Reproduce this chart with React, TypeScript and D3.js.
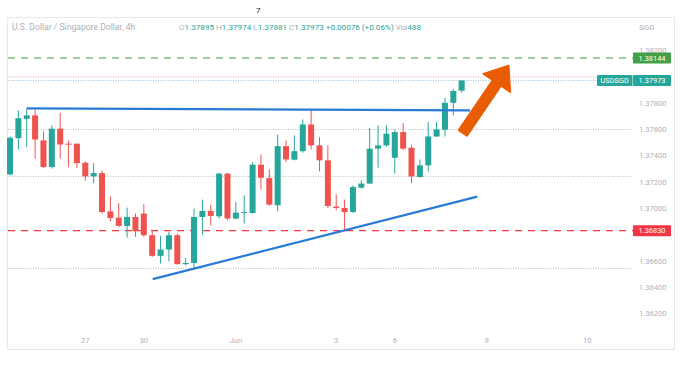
import React from "react";
import * as d3 from "d3";

const opens = [1.37258,1.37534,1.37681,1.37707,1.37517,1.37314,1.37606,1.37492,1.37492,1.37347,1.37243,1.37268,1.36977,1.36929,1.36866,1.36934,1.3696,1.36795,1.36638,1.36686,1.36795,1.36575,1.36584,1.36934,1.3698,1.36939,1.37264,1.36922,1.36964,1.36964,1.37332,1.3723,1.37023,1.37473,1.3737,1.37435,1.37638,1.37479,1.37365,1.37013,1.37002,1.36972,1.37157,1.37188,1.37454,1.37479,1.37385,1.3758,1.37461,1.37238,1.37327,1.37547,1.37598,1.37803,1.37895];
const highs = [1.37547,1.37745,1.37757,1.37752,1.37587,1.37631,1.37727,1.37517,1.37494,1.37357,1.37344,1.37289,1.37091,1.37038,1.37005,1.3696,1.3703,1.36833,1.3679,1.3682,1.36808,1.36622,1.36998,1.37066,1.37028,1.37271,1.37271,1.37048,1.37099,1.37352,1.3741,1.37296,1.3756,1.37517,1.37555,1.37676,1.37745,1.37542,1.37479,1.37106,1.37066,1.37175,1.37213,1.37613,1.37631,1.37631,1.37598,1.37648,1.37484,1.37372,1.37656,1.37656,1.37841,1.37909,1.37974];
const lows = [1.37251,1.37448,1.37466,1.37378,1.37306,1.37302,1.37378,1.37314,1.37306,1.3721,1.37192,1.3696,1.36901,1.36858,1.36777,1.36782,1.36782,1.3663,1.3658,1.36597,1.36572,1.36567,1.36542,1.368,1.36871,1.36922,1.36909,1.36916,1.36884,1.3696,1.37142,1.37018,1.36977,1.37352,1.37365,1.37423,1.37448,1.37281,1.37002,1.36985,1.36833,1.36964,1.3715,1.37188,1.37309,1.37466,1.37264,1.37446,1.37192,1.37233,1.37281,1.37542,1.37547,1.37707,1.37881];
const closes = [1.37537,1.37686,1.37707,1.37524,1.37314,1.37606,1.37486,1.37486,1.37344,1.37243,1.37268,1.36972,1.36926,1.36866,1.36934,1.36825,1.36795,1.36638,1.36686,1.36795,1.36575,1.36584,1.36934,1.3698,1.36942,1.37264,1.36922,1.36967,1.36972,1.37332,1.37233,1.37028,1.37473,1.37372,1.37435,1.37638,1.37479,1.37365,1.37018,1.37002,1.36972,1.37162,1.37188,1.37454,1.37479,1.37568,1.3758,1.37454,1.37243,1.37327,1.37547,1.376,1.37803,1.37893,1.37973];

// ticks visible on the price scale (1.38000 and 1.36800 are covered by price labels)
const priceTicks = [1.382,1.378,1.376,1.374,1.372,1.37,1.366,1.364,1.362];
const dateTickIdx = [9,16,27,39,46,57,69];
const dateTickLabels = ["27","30","Jun","3","6","8","10"];

const dottedLevels = [1.376,1.37243,1.36542];
const resistance = 1.38144;
const support = 1.3683;
const pinkLevel = 1.38;
const lastPrice = 1.37973;

const upperTrend = [[2,1.3776],[55,1.37745]];
const lowerTrend = [[17.06,1.36461],[55.86,1.37089]];
const arrowFrom = [54.1,1.3757];
const arrowTo = [59.65,1.3809];

const UP = "#26a69a";
const DOWN = "#ef5350";
const AXIS_TEXT = "#aeb1ba";
const FONT = "Roboto, 'Noto Sans', sans-serif";

export default function App() {
  const x = d3.scaleLinear().domain([0, 54]).range([10, 461.7]);
  const y = d3.scaleLinear().domain([1.362, 1.378]).range([313.4, 103.2]);
  const plotL = 8, plotR = 633;
  const bodyW = 6;
  const line = d3.line<number[]>().x(d => x(d[0])).y(d => y(d[1]));

  const ax0 = x(arrowFrom[0]), ay0 = y(arrowFrom[1]);
  const ax1 = x(arrowTo[0]), ay1 = y(arrowTo[1]);
  const len = Math.hypot(ax1 - ax0, ay1 - ay0);
  const ux = (ax1 - ax0) / len, uy = (ay1 - ay0) / len;
  const px = -uy, py = ux;
  const shaftHalf = 5.5, headHalf = 17, headLen = 22;
  const bx = ax1 - ux * headLen, by = ay1 - uy * headLen;
  const arrowPts = [
    [ax0 + px * shaftHalf, ay0 + py * shaftHalf],
    [bx + px * shaftHalf, by + py * shaftHalf],
    [bx + px * headHalf, by + py * headHalf],
    [ax1, ay1],
    [bx - px * headHalf, by - py * headHalf],
    [bx - px * shaftHalf, by - py * shaftHalf],
    [ax0 - px * shaftHalf, ay0 - py * shaftHalf],
  ];

  const fmt = d3.format(".5f");

  return (
    <svg width={681} height={374} style={{ position: "absolute", left: 0, top: 0, background: "#fff" }} fontFamily={FONT}>
      <rect x={0} y={0} width={681} height={374} fill="#fff" />
      <text x={256} y={13} fontSize={8} fill="#222">7</text>
      <rect x={7.5} y={17.5} width={667} height={332} fill="none" stroke="#e6e8ee" />
      <text x={12} y={30} fontSize={8.6} fill={AXIS_TEXT}>U.S. Dollar / Singapore Dollar, 4h</text>
      <text x={179} y={30} fontSize={8.1} fill={AXIS_TEXT}>
        O<tspan fill={UP}>1.37895</tspan> H<tspan fill={UP}>1.37974</tspan> L<tspan fill={UP}>1.37881</tspan> C<tspan fill={UP}>1.37973</tspan> <tspan fill={UP}>+0.00076 (+0.06%)</tspan> Vol<tspan fill={UP}>488</tspan>
      </text>
      <text x={639} y={30} fontSize={8} fill={AXIS_TEXT}>SGD</text>

      {dottedLevels.map((v, i) => (
        <line key={i} x1={plotL} x2={plotR} y1={y(v)} y2={y(v)} stroke="#b8b8b8" strokeWidth={1} strokeDasharray="1,1.5" />
      ))}
      <line x1={plotL} x2={plotR} y1={y(pinkLevel)} y2={y(pinkLevel)} stroke="#f4a3a3" strokeWidth={1} strokeDasharray="1,1.5" />
      <line x1={plotL} x2={plotR} y1={y(lastPrice)} y2={y(lastPrice)} stroke="#8fc3e0" strokeWidth={1} strokeDasharray="1,1.5" />
      <line x1={plotL} x2={plotR} y1={y(resistance)} y2={y(resistance)} stroke="#43a047" strokeWidth={1.2} strokeDasharray="7,6" />
      <line x1={plotL} x2={plotR} y1={y(support)} y2={y(support)} stroke="#f23645" strokeWidth={1.2} strokeDasharray="7,6" />

      {opens.map((o, i) => {
        const c = closes[i];
        const col = c >= o ? UP : DOWN;
        const top = y(Math.max(o, c));
        const bot = y(Math.min(o, c));
        return (
          <g key={i}>
            <line x1={x(i)} x2={x(i)} y1={y(highs[i])} y2={y(lows[i])} stroke={col} strokeWidth={1} />
            <rect x={x(i) - bodyW / 2} y={top} width={bodyW} height={Math.max(1, bot - top)} fill={col} />
          </g>
        );
      })}

      <path d={line(upperTrend) || ""} stroke="#2a7bd6" strokeWidth={2.2} fill="none" />
      <path d={line(lowerTrend) || ""} stroke="#2a7bd6" strokeWidth={2.2} fill="none" />
      <polygon points={arrowPts.map(p => p.join(",")).join(" ")} fill="#e85d04" stroke="#e85d04" strokeWidth={1} strokeLinejoin="round" />

      {priceTicks.map((v, i) => (
        <text key={i} x={639} y={y(v) + 2.7} fontSize={7.6} fill={AXIS_TEXT}>{fmt(v)}</text>
      ))}
      {dateTickIdx.map((d, i) => (
        <text key={i} x={x(d)} y={343} fontSize={7.6} fill={AXIS_TEXT} textAnchor="middle">{dateTickLabels[i]}</text>
      ))}

      <rect x={633} y={y(resistance) - 5.5} width={38} height={11} rx={1} fill="#43a047" />
      <text x={652} y={y(resistance) + 2.6} fontSize={7.4} fill="#fff" textAnchor="middle">{fmt(resistance)}</text>
      <rect x={633} y={y(support) - 5.5} width={38} height={11} rx={1} fill="#f23645" />
      <text x={652} y={y(support) + 2.6} fontSize={7.4} fill="#fff" textAnchor="middle">{fmt(support)}</text>
      <rect x={597} y={y(lastPrice) - 5.5} width={35.5} height={11} rx={1} fill={UP} />
      <text x={614.7} y={y(lastPrice) + 2.6} fontSize={7.4} fill="#fff" textAnchor="middle">USDSGD</text>
      <rect x={633} y={y(lastPrice) - 5.5} width={38} height={11} rx={1} fill={UP} />
      <text x={652} y={y(lastPrice) + 2.6} fontSize={7.4} fill="#fff" textAnchor="middle">{fmt(lastPrice)}</text>
    </svg>
  );
}
